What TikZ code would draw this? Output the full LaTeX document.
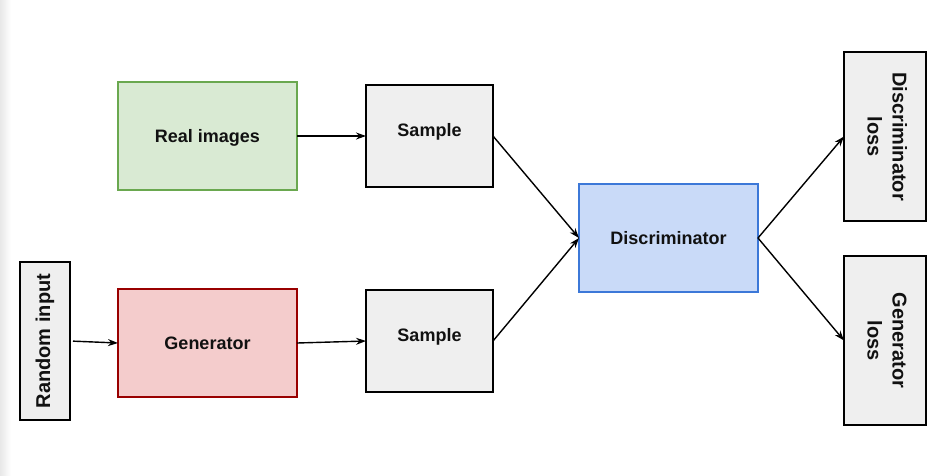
\documentclass[tikz,border=0pt]{standalone}
\usepackage{fontspec}
\setmainfont{Liberation Sans}
\usetikzlibrary{arrows.meta}
\definecolor{gfill}{HTML}{D9EAD3}
\definecolor{gline}{HTML}{6AA84F}
\definecolor{rfill}{HTML}{F4CCCC}
\definecolor{rline}{HTML}{990000}
\definecolor{bfill}{HTML}{C9DAF8}
\definecolor{bline}{HTML}{3C78D8}
\definecolor{nfill}{HTML}{EFEFEF}
\definecolor{txt}{HTML}{111111}
\tikzset{
  box/.style={draw, line width=1.4pt, rectangle, outer sep=0pt, inner sep=0pt,
    font=\fontsize{18}{21}\selectfont\bfseries, text=txt},
  bigfont/.style={font=\fontsize{20}{25}\selectfont\bfseries},
  hbox/.style={box, text height=13pt, text depth=0pt},
  wide/.style={minimum width=179pt, minimum height=108pt},
  samp/.style={box, fill=nfill, minimum width=127pt, minimum height=102pt},
  tall/.style={box, bigfont, fill=nfill, minimum width=82pt, minimum height=169pt},
  conn/.style={line width=1.4pt, -{Stealth[length=10pt,width=7pt]}}
}
\begin{document}
\begin{tikzpicture}[x=1pt,y=-1pt]
\useasboundingbox (0,0) rectangle (940,475);
\shade[left color=black!9, right color=white] (0,0) rectangle (11,475);

\node[hbox, wide, fill=gfill, draw=gline] (rimg) at (207.5,136) {Real images};
\node[samp] (s1) at (429.5,136) {\raisebox{0pt}[0pt][0pt]{Sample}};
\node[hbox, wide, fill=rfill, draw=rline] (gen) at (207.5,343) {Generator};
\node[samp] (s2) at (429.5,341) {\raisebox{0pt}[0pt][0pt]{Sample}};
\node[hbox, wide, fill=bfill, draw=bline] (disc) at (668.5,238) {Discriminator};
\node[box, bigfont, fill=nfill, minimum width=50pt, minimum height=158pt] (rand) at (45,341)
  {\rotatebox{90}{Random input}};
\node[tall] (dloss) at (885,136.5)
  {\rotatebox{-90}{\begin{tabular}{@{}c@{}}Discriminator\\loss\end{tabular}}};
\node[tall] (gloss) at (885,340.5)
  {\rotatebox{-90}{\begin{tabular}{@{}c@{}}Generator\\loss\end{tabular}}};

\draw[conn] (rimg.east) -- (s1.west);
\draw[conn, shorten <=3pt] (rand.east) -- (gen.west);
\draw[conn] (gen.east) -- (s2.west);
\draw[conn] (s1.east) -- (disc.west);
\draw[conn] (s2.east) -- (disc.west);
\draw[conn] (disc.east) -- (dloss.west);
\draw[conn] (disc.east) -- (gloss.west);
\end{tikzpicture}
\end{document}
